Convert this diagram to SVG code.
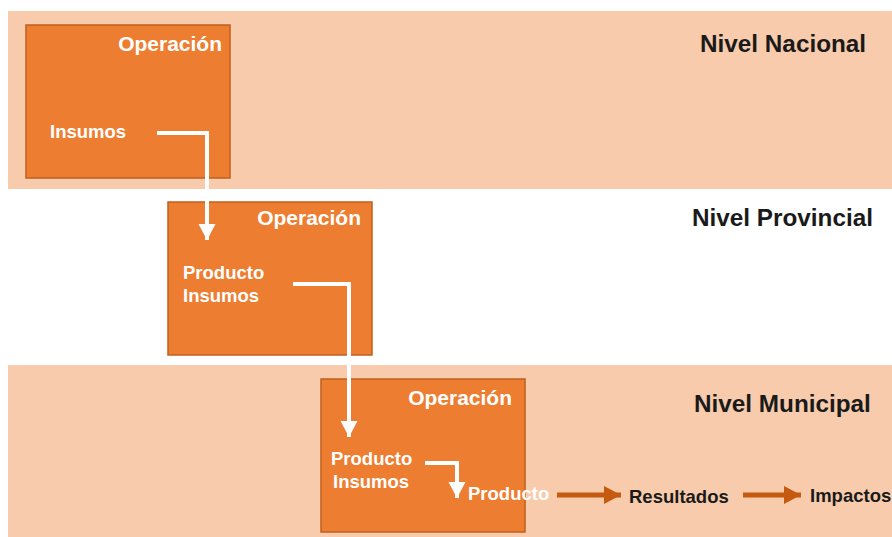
<svg xmlns="http://www.w3.org/2000/svg" width="892" height="537" viewBox="0 0 892 537">
  <style>
    .band { fill: #F7CBAC; }
    .box { fill: #ED7D31; stroke: #C0601E; stroke-width: 1.5; }
    .wt { font-family: "Liberation Sans", Arial, sans-serif; font-weight: bold; fill: #FFFFFF; font-size: 18.5px; }
    .op { font-size: 21px; text-anchor: end; }
    .lvl { font-family: "Liberation Sans", Arial, sans-serif; font-weight: bold; fill: #1A1A1A; font-size: 24.3px; }
    .bk { font-family: "Liberation Sans", Arial, sans-serif; font-weight: bold; fill: #1A1A1A; font-size: 18.5px; }
    .wline { fill: none; stroke: #FFFFFF; stroke-width: 4; stroke-linejoin: miter; }
    .oline { fill: none; stroke: #C55A11; stroke-width: 5; }
  </style>
  <defs>
    <marker id="whead" markerUnits="userSpaceOnUse" markerWidth="18" markerHeight="18" refX="16" refY="8.5" orient="auto">
      <path d="M0,0 L16,8.5 L0,17 Z" fill="#FFFFFF"/>
    </marker>
    <marker id="ohead" markerUnits="userSpaceOnUse" markerWidth="18" markerHeight="20" refX="17" refY="9" orient="auto">
      <path d="M0,0 L17,9 L0,18 Z" fill="#C55A11"/>
    </marker>
  </defs>

  <!-- level bands -->
  <rect class="band" x="8" y="11" width="884" height="178"/>
  <rect class="band" x="8" y="365" width="884" height="172"/>

  <!-- level titles -->
  <text class="lvl" x="700" y="52">Nivel Nacional</text>
  <text class="lvl" x="692" y="226">Nivel Provincial</text>
  <text class="lvl" x="694" y="412">Nivel Municipal</text>

  <g id="op-nacional">
    <rect class="box" x="26" y="25" width="204" height="153"/>
    <text class="wt op" x="222" y="51">Operación</text>
    <text class="wt" x="50" y="138">Insumos</text>
  </g>

  <g id="op-provincial">
    <rect class="box" x="168" y="202" width="204" height="153"/>
    <text class="wt op" x="361" y="225">Operación</text>
    <text class="wt" x="183" y="279">Producto</text>
    <text class="wt" x="183" y="302">Insumos</text>
  </g>

  <g id="op-municipal">
    <rect class="box" x="321" y="379" width="204" height="153"/>
    <text class="wt op" x="512" y="405">Operación</text>
    <text class="wt" x="331" y="465">Producto</text>
    <text class="wt" x="333" y="488">Insumos</text>
  </g>

  <g id="producto">
    <text class="wt" x="468" y="500">Producto</text>
  </g>
  <g id="resultados">
    <text class="bk" x="629" y="503">Resultados</text>
  </g>
  <g id="impactos">
    <text class="bk" x="810" y="502">Impactos</text>
  </g>

  <g id="connectors">
    <path class="wline" d="M157,133 H207 V240" marker-end="url(#whead)"/>
    <path class="wline" d="M293,284 H349 V437" marker-end="url(#whead)"/>
    <path class="wline" d="M425,463 H457 V498" marker-end="url(#whead)"/>
    <path class="oline" d="M557,495 H621" marker-end="url(#ohead)"/>
    <path class="oline" d="M743,495 H801" marker-end="url(#ohead)"/>
  </g>
</svg>
